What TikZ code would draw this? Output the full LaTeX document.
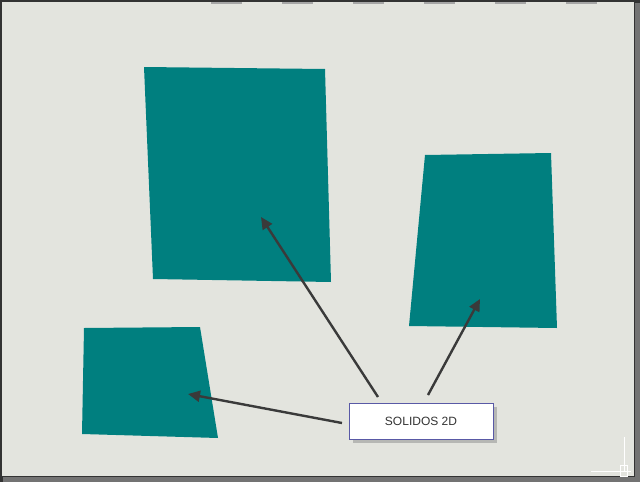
\documentclass[tikz,border=0pt]{standalone}
\usepackage{fontspec}
\setmainfont{Liberation Sans}
\usetikzlibrary{arrows.meta}
\definecolor{bg}{HTML}{E3E4DE}
\definecolor{teal2}{HTML}{007F7F}
\definecolor{arr}{HTML}{3A3A3A}
\definecolor{frame}{HTML}{333333}
\begin{document}
\begin{tikzpicture}[x=1pt,y=-1pt,
  solid2d/.style={fill=teal2,draw=none},
  pointer/.style={draw=arr,line width=2.4pt,-{Triangle[length=12pt,width=11pt]}},
  label/.style={draw=gray!70!blue,fill=white,minimum width=144pt,minimum height=36pt,inner sep=0pt,font=\fontsize{12}{14}\selectfont,text=black!80}]
\useasboundingbox (0,0) rectangle (640,482);
\fill[frame] (0,0) rectangle (640,482);
\fill[gray!90!black] (635,3) rectangle (640,482);
\fill[gray!90!black] (3,477) rectangle (640,482);
\fill[bg] (2,2) rectangle (634,476);
\foreach \x in {211,282,353,424,495,566}
  \fill[gray!70] (\x,2) rectangle (\x+31,4);
% crosshair
\draw[white,line width=1pt] (624,437) -- (624,472);
\draw[white,line width=1pt] (591,471) -- (631,471);
\draw[white,line width=0.8pt] (620,465) rectangle (627,476);
% solids
\fill[solid2d] (144,67) -- (325,69) -- (331,282) -- (153,279) -- cycle;
\fill[solid2d] (425,155) -- (551,153) -- (557,328) -- (409,326) -- cycle;
\fill[solid2d] (84,328) -- (200,327) -- (218,438) -- (82,434) -- cycle;
% anchors
\coordinate (t1) at (261,217);
\coordinate (t2) at (480,299);
\coordinate (t3) at (188,394);
\coordinate (s1) at (378,397);
\coordinate (s2) at (428,395);
\coordinate (s3) at (342,423);
\fill[gray!80,opacity=0.6] (353,407) rectangle (497,443);
\node[label] (lab) at (421,421) {SOLIDOS 2D};
\draw[pointer] (s1) -- (t1);
\draw[pointer] (s2) -- (t2);
\draw[pointer] (s3) -- (t3);
\end{tikzpicture}
\end{document}
